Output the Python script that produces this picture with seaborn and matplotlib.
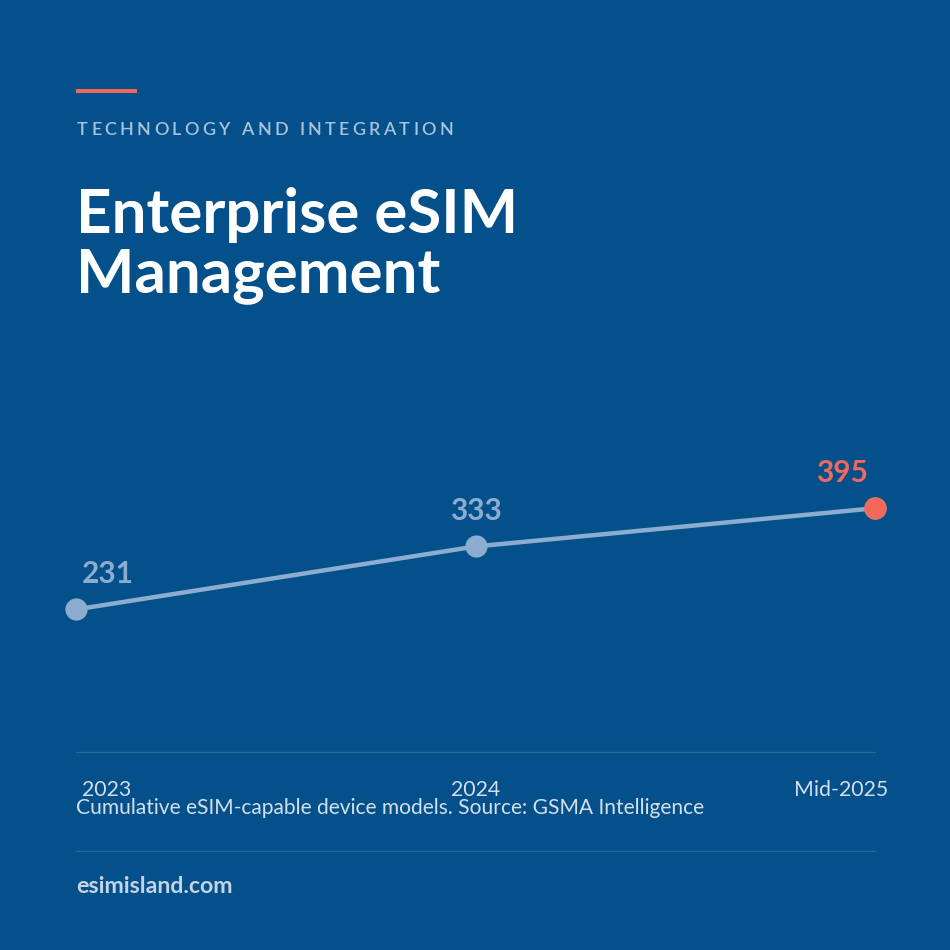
import pandas as pd
import matplotlib
matplotlib.use("Agg")
import matplotlib.pyplot as plt
import matplotlib.transforms as mtransforms
import seaborn as sns

# data
periods = ["2023", "2024", "Mid-2025"]
models = [231, 333, 395]

kicker = "TECHNOLOGY AND INTEGRATION"
title = "Enterprise eSIM\nManagement"
caption = "Cumulative eSIM-capable device models. Source: GSMA Intelligence"
site = "esimisland.com"

BG = "#03508a"
LINE = "#8cadcf"
CORAL = "#f2695c"
MUTED = "#a8c2dc"
TEXT = "#d3dfeb"

sns.set_theme(style="white")
plt.rcParams["font.family"] = ["Lato", "DejaVu Sans"]

W = H = 950
fig = plt.figure(figsize=(9.5, 9.5), dpi=100, facecolor=BG)


def fx(px):
    return px / W


def fy(py):
    return 1 - py / H


# accent bar
fig.add_artist(plt.Rectangle((fx(76), fy(93)), fx(61), 4 / H, color=CORAL,
                             transform=fig.transFigure, lw=0))

# letter-spaced kicker, drawn char by char
renderer = fig.canvas.get_renderer()
chars = []
widths = []
for ch in kicker:
    if ch == " ":
        chars.append(None)
        widths.append(5.0)
        continue
    t = fig.text(0, 0, ch, fontsize=13, fontweight="semibold", color=MUTED,
                 va="baseline")
    widths.append(t.get_window_extent(renderer).width)
    chars.append(t)
spacing = (453 - 77 - sum(widths)) / (len(kicker) - 1)
x = 77
for t, w in zip(chars, widths):
    if t is not None:
        t.set_position((fx(x), fy(135)))
    x += w + spacing

fig.text(fx(76), fy(292), title, fontsize=44.5, fontweight="bold", color="white",
         va="baseline", linespacing=1.06)

# chart
ax = fig.add_axes([fx(76), fy(752), fx(875) - fx(76), (752 - 357) / H])
ax.set_facecolor(BG)
df = pd.DataFrame({"period": periods, "models": models})
sns.lineplot(data=df, x="period", y="models", ax=ax, color=LINE, lw=3.2,
             marker="o", markersize=16, markeredgewidth=0, sort=False, clip_on=False)
sns.scatterplot(data=df.iloc[[-1]], x="period", y="models", ax=ax,
                color=CORAL, s=260, linewidth=0, zorder=5, clip_on=False)
ax.set_xlim(0, 2)
ax.set_ylim(0, 640)
ax.set_xlabel("")
ax.set_ylabel("")
ax.set_yticks([])
for s in ["top", "left", "right"]:
    ax.spines[s].set_visible(False)
ax.spines["bottom"].set_color("#2a6699")
ax.spines["bottom"].set_linewidth(1)
ax.tick_params(axis="x", length=0, pad=20, labelsize=15.3, labelcolor=TEXT)

aligns = ["left", "center", "right"]
shifts = [6, 0, 13]
for lab, ha, dx in zip(ax.get_xticklabels(), aligns, shifts):
    lab.set_ha(ha)
    lab.set_transform(lab.get_transform() +
                      mtransforms.ScaledTranslation(dx / 100, 0, fig.dpi_scale_trans))

lab_shift = [6, 0, -7]
for i, (p, v) in enumerate(zip(periods, models)):
    col = CORAL if i == len(models) - 1 else LINE
    ax.annotate(str(v), (i, v), xytext=(lab_shift[i] * 0.72, 19),
                textcoords="offset points", ha=aligns[i], va="baseline",
                fontsize=21.5, fontweight="bold", color=col, annotation_clip=False)

fig.text(fx(76), fy(814), caption, fontsize=15.1, color=TEXT, va="baseline")

# footer rule and site
fig.add_artist(plt.Line2D([fx(76), fx(875)], [fy(851), fy(851)], color="#2a6699",
                          lw=1, transform=fig.transFigure))
fig.text(fx(76), fy(893), site, fontsize=16.7, fontweight="bold", color="#c4d4e6",
         va="baseline")

fig.savefig("out.png", dpi=100, facecolor=BG)
